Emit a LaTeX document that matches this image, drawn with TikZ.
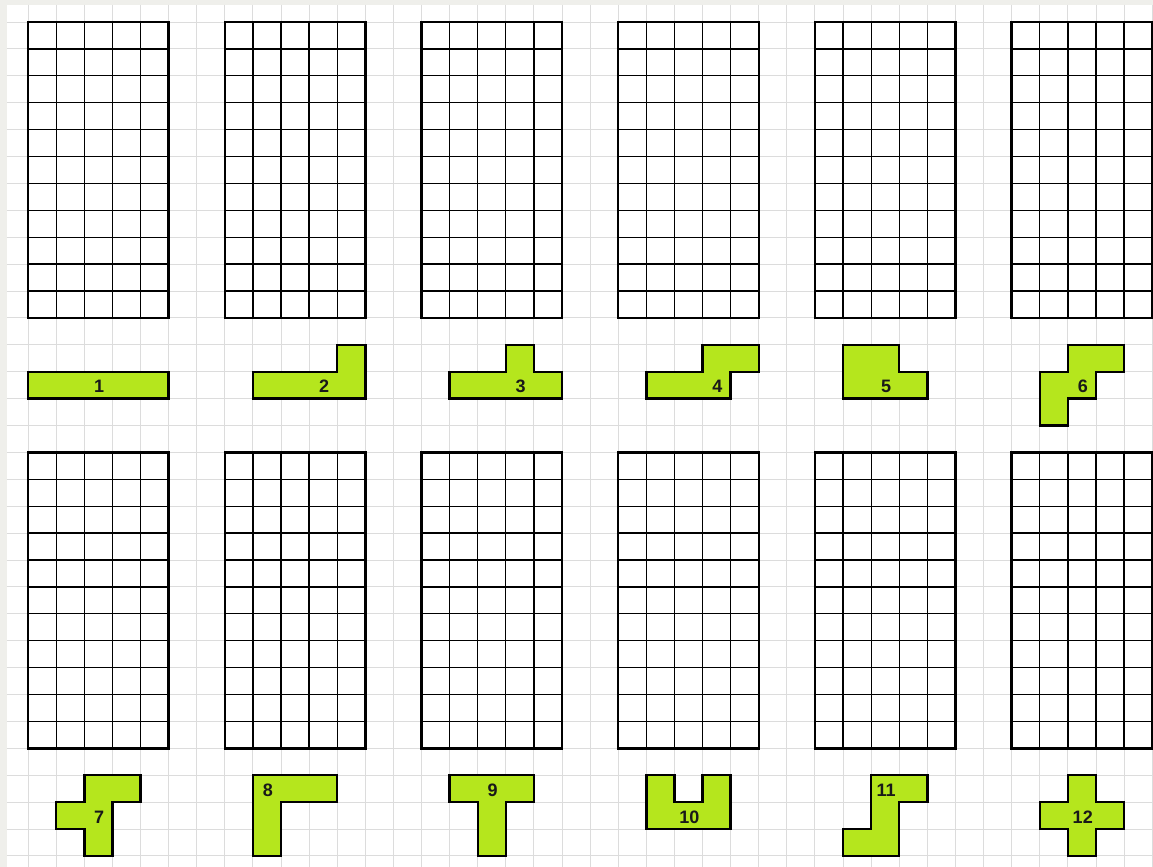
\documentclass[tikz,border=0pt]{standalone}
\usepackage{fontspec}
\setmainfont{Liberation Sans}
\definecolor{limefill}{HTML}{B5E61D}
\definecolor{offwhite}{HTML}{EFEFEB}
\definecolor{bgline}{HTML}{DCDCDC}
\begin{document}
\begin{tikzpicture}[x=28.1pt,y=-26.9pt,
  bggrid/.style={draw=bgline,line width=0.9pt},
  cellline/.style={draw=black,line width=1.3pt},
  gridframe/.style={draw=black,line width=2.4pt},
  piece/.style={fill=limefill,draw=black,line width=2.4pt,line join=miter},
  lbl/.style={font=\fontsize{18}{18}\selectfont\bfseries,text=black!90,inner sep=0pt}]
\useasboundingbox (-1,-0.818) rectangle (40.03,31.41);
\fill[offwhite] (-1,-0.818) rectangle (40.03,31.41);
\fill[white] (-0.751,-0.632) rectangle (40.03,31.41);
% background grid
\foreach \i in {0,...,40} \draw[bggrid] (\i,-0.632) -- (\i,31.41);
\foreach \j in {0,...,31} \draw[bggrid] (-0.751,\j) -- (40.03,\j);
% answer grids
\foreach \c in {0,...,5} {
  \foreach \r in {0,16} {
    \foreach \k in {1,...,4} \draw[cellline] (7*\c+\k,\r) -- ++(0,11);
    \foreach \k in {1,...,10} \draw[cellline] (7*\c,\r+\k) -- ++(5,0);
    \draw[gridframe] (7*\c,\r) rectangle (7*\c+5,\r+11);
  }
}
% pieces, top row
\draw[piece] (0,13) -- (5,13) -- (5,14) -- (0,14) -- cycle;
\draw[piece] (8,13) -- (11,13) -- (11,12) -- (12,12) -- (12,14) -- (8,14) -- cycle;
\draw[piece] (15,13) -- (17,13) -- (17,12) -- (18,12) -- (18,13) -- (19,13) -- (19,14) -- (15,14) -- cycle;
\draw[piece] (22,13) -- (24,13) -- (24,12) -- (26,12) -- (26,13) -- (25,13) -- (25,14) -- (22,14) -- cycle;
\draw[piece] (29,12) -- (31,12) -- (31,13) -- (32,13) -- (32,14) -- (29,14) -- cycle;
\draw[piece] (37,12) -- (39,12) -- (39,13) -- (38,13) -- (38,14) -- (37,14) -- (37,15) -- (36,15) -- (36,13) -- (37,13) -- cycle;
% pieces, bottom row
\draw[piece] (2,28) -- (4,28) -- (4,29) -- (3,29) -- (3,31) -- (2,31) -- (2,30) -- (1,30) -- (1,29) -- (2,29) -- cycle;
\draw[piece] (8,28) -- (11,28) -- (11,29) -- (9,29) -- (9,31) -- (8,31) -- cycle;
\draw[piece] (15,28) -- (18,28) -- (18,29) -- (17,29) -- (17,31) -- (16,31) -- (16,29) -- (15,29) -- cycle;
\draw[piece] (22,28) -- (23,28) -- (23,29) -- (24,29) -- (24,28) -- (25,28) -- (25,30) -- (22,30) -- cycle;
\draw[piece] (30,28) -- (32,28) -- (32,29) -- (31,29) -- (31,31) -- (29,31) -- (29,30) -- (30,30) -- cycle;
\draw[piece] (37,28) -- (38,28) -- (38,29) -- (39,29) -- (39,30) -- (38,30) -- (38,31) -- (37,31) -- (37,30) -- (36,30) -- (36,29) -- (37,29) -- cycle;
% labels
\node[lbl] (l1) at (2.53,13.55) {1};
\node[lbl] (l2) at (10.53,13.55) {2};
\node[lbl] (l3) at (17.53,13.55) {3};
\node[lbl] (l4) at (24.53,13.55) {4};
\node[lbl] (l5) at (30.53,13.55) {5};
\node[lbl] (l6) at (37.53,13.55) {6};
\node[lbl] (l7) at (2.53,29.55) {7};
\node[lbl] (l8) at (8.53,28.55) {8};
\node[lbl] (l9) at (16.53,28.55) {9};
\node[lbl] (l10) at (23.53,29.55) {10};
\node[lbl] (l11) at (30.53,28.55) {11};
\node[lbl] (l12) at (37.53,29.55) {12};
\end{tikzpicture}
\end{document}
